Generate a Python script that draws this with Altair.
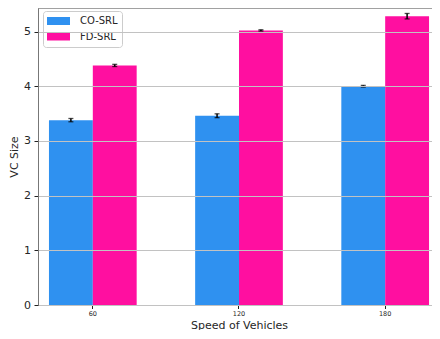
import altair as alt
import pandas as pd

speeds = ["60", "120", "180"]
series = ["CO-SRL", "FD-SRL"]
co_srl = [3.38, 3.46, 4.00]
fd_srl = [4.38, 5.02, 5.28]
co_err = [0.03, 0.035, 0.015]
fd_err = [0.02, 0.012, 0.05]
colors = ["#2F91F0", "#FF0FA0"]
y_ticks = [0, 1, 2, 3, 4, 5]

rows = []
for s, vals, errs in zip(series, [co_srl, fd_srl], [co_err, fd_err]):
    for sp, v, e in zip(speeds, vals, errs):
        rows.append({"speed": sp, "method": s, "value": v, "lo": v - e, "hi": v + e})
df = pd.DataFrame(rows)

W, H = 394, 297
FONT = "DejaVu Sans"

x = alt.X(
    "speed:N",
    sort=speeds,
    scale=alt.Scale(domain=speeds, range=[0, 402], paddingInner=0.4, paddingOuter=0.075),
    axis=alt.Axis(
        title="Speed of Vehicles", labelAngle=0, labelFontSize=6.5, labelPadding=1.5,
        tickSize=3.5, tickColor="#222222", domainColor="#222222", domainWidth=1,
        labelColor="#262626", titleFontSize=11, titleFontWeight="normal",
        titleColor="#262626", titleY=23, titleBaseline="alphabetic", titleX=201, grid=False,
    ),
)
xo = alt.XOffset("method:N", scale=alt.Scale(domain=series, paddingInner=0, paddingOuter=0))

y_axis = alt.Axis(
    values=y_ticks, format="d", title="VC Size", labelFontSize=11, labelPadding=3.5, tickSize=4,
    tickColor="#222222", domainColor="#777777", domainWidth=1, labelColor="#262626",
    grid=True, gridColor="#c2c2c2", gridWidth=1, zindex=1,
    titleFontSize=11, titleFontWeight="normal", titleColor="#262626",
    titleX=-20.5, titleY=H / 2, titleAngle=270, titleAlign="center", titleBaseline="alphabetic",
)
yscale = alt.Scale(domain=[0, 5.43], nice=False)

base = alt.Chart(df)

bars = base.mark_bar().encode(
    x=x,
    xOffset=xo,
    y=alt.Y("value:Q", scale=yscale, axis=y_axis),
    color=alt.Color(
        "method:N",
        scale=alt.Scale(domain=series, range=colors),
        legend=alt.Legend(
            title=None, orient="none", legendX=5, legendY=3,
            symbolType="M-1,-0.35H1V0.35H-1Z", symbolSize=529, symbolStrokeWidth=0,
            symbolOpacity=1, labelFontSize=10, labelFont=FONT, labelColor="#262626",
            labelOffset=10, padding=4, rowPadding=3.5, clipHeight=12, fillColor="white",
            strokeColor="#cccccc", cornerRadius=3,
        ),
    ),
)

err = base.mark_rule(color="black", strokeWidth=1.5).encode(
    x=x, xOffset=xo, y=alt.Y("lo:Q", scale=yscale), y2="hi:Q"
)
cap_lo = base.mark_tick(color="black", thickness=1.3, size=5).encode(
    x=x, xOffset=xo, y=alt.Y("lo:Q", scale=yscale)
)
cap_hi = base.mark_tick(color="black", thickness=1.3, size=5).encode(
    x=x, xOffset=xo, y=alt.Y("hi:Q", scale=yscale)
)

top_spine = alt.Chart(pd.DataFrame({"k": [0]})).mark_rule(color="#666666", strokeWidth=1).encode(
    x=alt.value(0), x2=alt.value(W), y=alt.value(0)
)

chart = (
    alt.layer(bars, err, cap_lo, cap_hi, top_spine)
    .properties(
        width=W, height=H,
        padding={"left": 30, "top": 0, "right": 0, "bottom": 25},
        autosize=alt.AutoSizeParams(type="none"),
    )
    .configure_view(stroke=None)
    .configure(font=FONT)
)

chart.save("out.html", embed_options={"renderer": "svg", "actions": False})
